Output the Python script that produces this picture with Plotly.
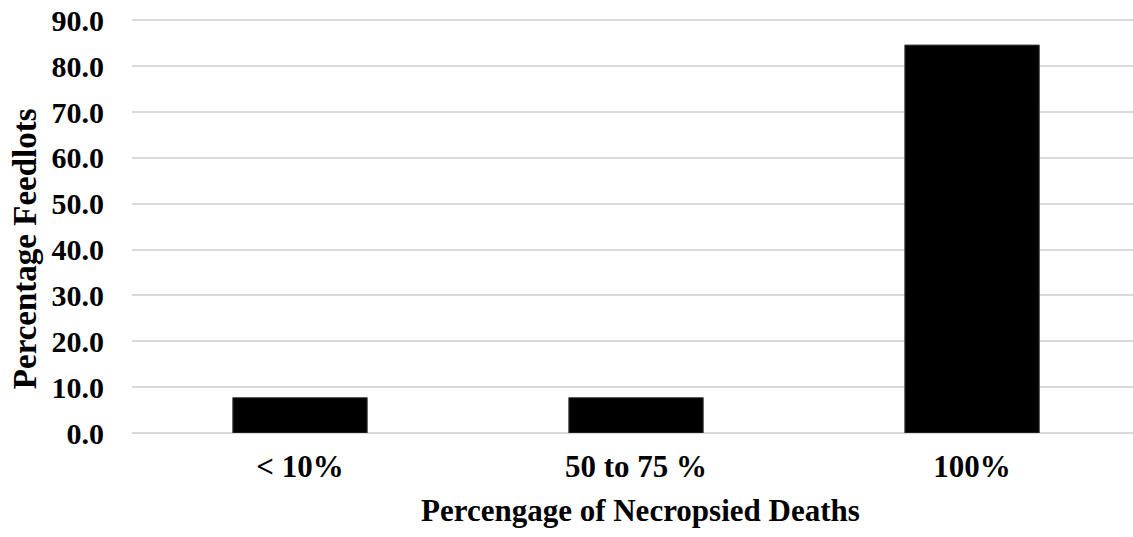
import plotly.graph_objects as go

categories = ["< 10%", "50 to 75 %", "100%"]
values = [7.7, 7.7, 84.6]
y_ticks = [0, 10, 20, 30, 40, 50, 60, 70, 80, 90]
y_ticklabels = [f"{v:.1f}" for v in y_ticks]
x_title = "Percengage of Necropsied Deaths"
y_title = "Percentage Feedlots"

FONT = "Liberation Serif"

fig = go.Figure(go.Bar(
    x=categories, y=values, width=0.4,
    marker=dict(color="#000000", line=dict(color="#404040", width=1)),
))

fig.update_layout(
    width=1133, height=537,
    margin=dict(l=132, r=0, t=18, b=104),
    plot_bgcolor="white", paper_bgcolor="white",
    font=dict(family=FONT, color="black"),
    showlegend=False,
)
fig.update_xaxes(
    range=[-0.5, 2.479], automargin=False,
    tickfont=dict(family=FONT, size=31, color="black", weight="bold"),
    ticklabelstandoff=12,
    showgrid=False, zeroline=False, showline=False, ticks="",
)
fig.update_yaxes(
    range=[0, 90.5], automargin=False,
    tickvals=y_ticks, ticktext=[f"<b>{t}</b>" for t in y_ticklabels],
    tickfont=dict(family=FONT, size=30, color="black"),
    ticklabelstandoff=27, ticklabeloverflow="allow",
    showgrid=True, gridcolor="#d9d9d9", gridwidth=1.5,
    zeroline=True, zerolinecolor="#d9d9d9", zerolinewidth=1.5,
    showline=False, ticks="",
)
fig.add_annotation(
    text=f"<b>{x_title}</b>", xref="paper", yref="paper",
    x=0.5075, y=0, xanchor="center", yanchor="middle", yshift=-77,
    showarrow=False, font=dict(family=FONT, size=31, color="black"),
)
fig.add_annotation(
    text=f"<b>{y_title}</b>", xref="paper", yref="paper", textangle=-90,
    x=0, y=0.443, xanchor="center", yanchor="middle", xshift=-107,
    showarrow=False, font=dict(family=FONT, size=33, color="black"),
)

fig.write_html(
    "out.html",
    config={"displayModeBar": False},
    post_script="document.body.style.margin='0';",
)
